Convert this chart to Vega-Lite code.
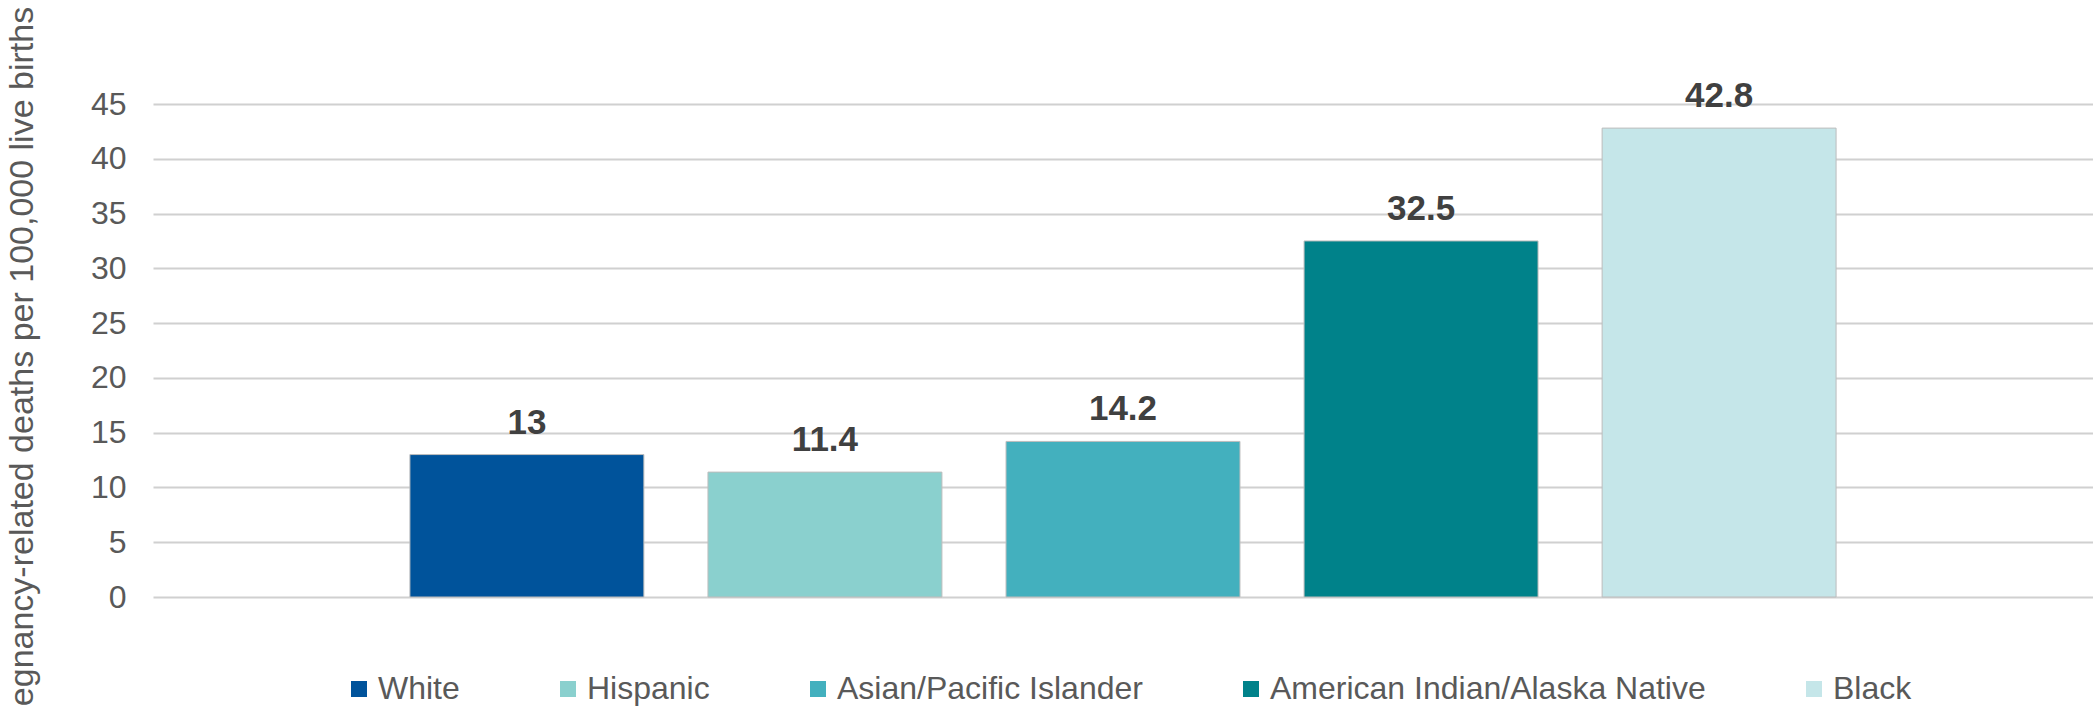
{
  "$schema": "https://vega.github.io/schema/vega-lite/v6.json",
  "width": 1940,
  "height": 493,
  "autosize": {"type": "none"},
  "padding": {"left": 153, "top": 104, "right": 0, "bottom": 109},
  "background": "white",
  "config": {"font": "Liberation Sans", "view": {"stroke": null}},
  "data": {
    "values": [
      {"group": "White", "rate": 13},
      {"group": "Hispanic", "rate": 11.4},
      {"group": "Asian/Pacific Islander", "rate": 14.2},
      {"group": "American Indian/Alaska Native", "rate": 32.5},
      {"group": "Black", "rate": 42.8}
    ]
  },
  "encoding": {
    "x": {
      "field": "group",
      "type": "nominal",
      "sort": null,
      "scale": {"paddingInner": 0.215, "paddingOuter": 0.862},
      "axis": null
    },
    "y": {
      "field": "rate",
      "type": "quantitative",
      "scale": {"domain": [0, 45], "nice": false},
      "axis": {
        "title": "Pregnancy-related deaths per 100,000 live births",
        "titleFontSize": 34,
        "titleFontWeight": "normal",
        "titleColor": "#595959",
        "titleAngle": -90,
        "titleX": -131,
        "titleY": 269,
        "titleAlign": "center",
        "titleBaseline": "middle",
        "values": [0, 5, 10, 15, 20, 25, 30, 35, 40, 45],
        "labelFontSize": 32,
        "labelColor": "#595959",
        "labelPadding": 27,
        "ticks": false,
        "domain": false,
        "grid": true,
        "gridColor": "#d0d0d0",
        "gridWidth": 2
      }
    }
  },
  "layer": [
    {
      "mark": {"type": "bar", "stroke": "#bdbdbd", "strokeWidth": 1},
      "encoding": {
        "color": {
          "field": "group",
          "type": "nominal",
          "sort": null,
          "scale": {
            "domain": ["White", "Hispanic", "Asian/Pacific Islander", "American Indian/Alaska Native", "Black"],
            "range": ["#00539b", "#8ad0ce", "#43b0be", "#00828a", "#c5e6e9"]
          },
          "legend": {
            "title": null,
            "orient": "none",
            "direction": "horizontal",
            "legendX": 190,
            "legendY": 569,
            "symbolType": "square",
            "symbolSize": 256,
            "symbolStrokeWidth": 0,
            "labelFontSize": 32,
            "labelColor": "#595959",
            "labelOffset": 3,
            "columnPadding": 92,
            "labelLimit": 700
          }
        }
      }
    },
    {
      "mark": {"type": "text", "baseline": "alphabetic", "dy": -21, "fontSize": 35, "fontWeight": "bold", "color": "#404040"},
      "encoding": {"text": {"field": "rate", "type": "quantitative"}}
    }
  ]
}
